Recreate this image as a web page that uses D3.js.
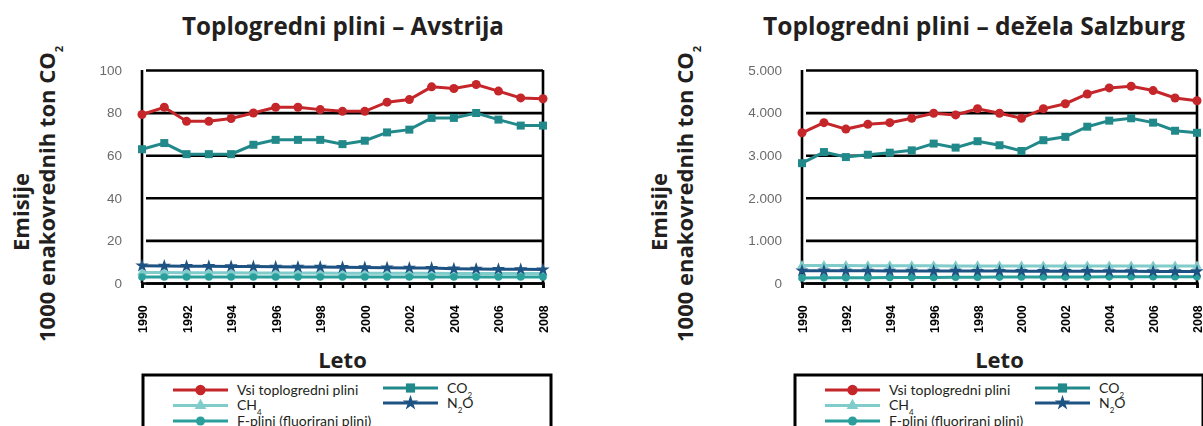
<!DOCTYPE html>
<html>
<head>
<meta charset="utf-8">
<script src="https://cdn.jsdelivr.net/npm/d3@7/dist/d3.min.js"></script>
<style>
  html, body { margin: 0; padding: 0; background: #ffffff; }
  svg { display: block; }
</style>
</head>
<body>
<script>
// Years on the x axis (every year is a point, every second year is labelled)
const years = [1990, 1991, 1992, 1993, 1994, 1995, 1996, 1997, 1998, 1999,
               2000, 2001, 2002, 2003, 2004, 2005, 2006, 2007, 2008];
const yearLabels = [1990, 1992, 1994, 1996, 1998, 2000, 2002, 2004, 2006, 2008];

// Austria, million t CO2 equivalent
const austriaTotal = [79.1, 82.5, 75.9, 75.9, 77.2, 79.8, 82.5, 82.5, 81.4, 80.6,
                      80.6, 84.9, 86.1, 92.1, 91.3, 93.2, 90.1, 86.9, 86.5];
const austriaCO2   = [62.8, 65.7, 60.5, 60.5, 60.5, 64.9, 67.2, 67.2, 67.2, 65.2,
                      66.8, 70.7, 72.0, 77.5, 77.5, 79.8, 76.7, 73.9, 73.9];
const austriaCH4   = [4.9, 4.9, 4.8, 4.8, 4.8, 4.7, 4.7, 4.7, 4.7, 4.6,
                      4.6, 4.6, 4.6, 4.6, 4.5, 4.5, 4.5, 4.5, 4.5];
const austriaF     = [2.8, 2.8, 2.8, 2.8, 2.8, 2.8, 2.8, 2.8, 2.8, 2.8,
                      2.8, 2.8, 2.8, 2.8, 2.8, 2.8, 2.8, 2.8, 2.8];
const austriaN2O   = [8.1, 8.0, 7.9, 7.9, 7.8, 7.7, 7.6, 7.5, 7.5, 7.4,
                      7.3, 7.2, 7.1, 7.0, 6.7, 6.6, 6.5, 6.4, 6.3];
const austriaTicks = [0, 20, 40, 60, 80, 100];

// Land Salzburg, 1000 t CO2 equivalent
const salzburgTotal = [3526, 3764, 3613, 3724, 3764, 3867, 3986, 3946, 4089, 3986,
                       3867, 4089, 4208, 4437, 4580, 4620, 4517, 4342, 4279];
const salzburgCO2   = [2813, 3074, 2956, 3011, 3059, 3114, 3273, 3178, 3328, 3233,
                       3098, 3352, 3431, 3669, 3811, 3867, 3764, 3574, 3526];
const salzburgCH4   = [410, 410, 408, 406, 405, 404, 403, 402, 401, 400,
                       400, 400, 400, 400, 400, 400, 400, 400, 400];
const salzburgN2O   = [290, 288, 286, 285, 284, 283, 282, 281, 280, 279,
                       278, 277, 276, 275, 274, 273, 272, 271, 270];
const salzburgF     = [120, 122, 124, 126, 128, 130, 132, 134, 136, 138,
                       140, 141, 142, 143, 144, 145, 146, 147, 148];
const salzburgTicks = [0, 1000, 2000, 3000, 4000, 5000];

// Text
const titles = ["Toplogredni plini \u2013 Avstrija", "Toplogredni plini \u2013 de\u017eela Salzburg"];
const seriesNames = ["Vsi toplogredni plini", "CH4", "F-plini (fluorirani plini)", "CO2", "N2O"];
const xTitle = "Leto";
const yTitle1 = "Emisije";
const yTitle2 = "1000 enakovrednih ton CO";

// Series styling, keyed by series name
const seriesStyle = {
  "Vsi toplogredni plini":        { color: "#c4262b", symbol: d3.symbolCircle,   size: 64 },
  "CH4":                          { color: "#80cccb", symbol: d3.symbolTriangle, size: 40 },
  "F-plini (fluorirani plini)":   { color: "#2a9f9c", symbol: d3.symbolCircle,   size: 45 },
  "CO2":                          { color: "#23898b", symbol: d3.symbolSquare,   size: 64 },
  "N2O":                          { color: "#1f5283", symbol: d3.symbolStar,     size: 55 }
};

const panels = [
  { title: titles[0], ticks: austriaTicks, fmt: d3.format("d"),
    series: [austriaTotal, austriaCH4, austriaF, austriaCO2, austriaN2O],
    left: 142, right: 543, top: 70, bottom: 283, titleX: 343, titleW: 322,
    yT1: 21, yT2: 47, legendX: 143 },
  { title: titles[1], ticks: salzburgTicks,
    fmt: d3.formatLocale({ decimal: ",", thousands: ".", grouping: [3], currency: ["", "€"] }).format(",d"),
    series: [salzburgTotal, salzburgCH4, salzburgF, salzburgCO2, salzburgN2O],
    left: 802, right: 1197, top: 70, bottom: 283, titleX: 974, titleW: 422,
    yT1: 659, yT2: 685, legendX: 795 }
];

const svg = d3.select("body").append("svg").attr("width", 1203).attr("height", 426);
const defs = svg.append("defs");
defs.append("filter").attr("id", "soft")
  .append("feGaussianBlur").attr("stdDeviation", 0.6);

const headFont = "'Open Sans', Lato, sans-serif";

// shrink or grow a text so that it spans the given width
function fitWidth(sel, w, base) {
  const len = sel.node().getComputedTextLength();
  sel.style("font-size", (base * w / len).toFixed(2) + "px");
}

// draw order: low series first, then CO2, then total on top
const drawOrder = [1, 2, 4, 3, 0];

panels.forEach(p => {
  const x = d3.scaleLinear().domain([years[0], years[years.length - 1]]).range([p.left, p.right]);
  const y = d3.scaleLinear().domain([p.ticks[0], p.ticks[p.ticks.length - 1]]).range([p.bottom, p.top]);
  const g = svg.append("g");

  // title
  const tt = g.append("text").attr("x", p.titleX).attr("y", 35)
    .attr("text-anchor", "middle")
    .style("font-family", headFont).style("font-weight", 700)
    .style("font-size", "20px").style("fill", "#231f20")
    .text(p.title);
  fitWidth(tt, p.titleW, 20);

  // y axis title, two rotated lines
  g.append("text").attr("transform", `translate(${p.yT1},212) rotate(-90)`)
    .attr("text-anchor", "middle").attr("dy", "0.35em")
    .style("font-family", headFont).style("font-weight", 700)
    .style("font-size", "22px").style("fill", "#231f20").text(yTitle1);
  const t2 = g.append("text").attr("transform", `translate(${p.yT2},194) rotate(-90)`)
    .attr("text-anchor", "middle").attr("dy", "0.35em")
    .style("font-family", headFont).style("font-weight", 700)
    .style("font-size", "22px").style("fill", "#231f20");
  t2.append("tspan").text(yTitle2);
  t2.append("tspan").attr("baseline-shift", "sub").style("font-size", "11px").text("2");

  const plot = g.append("g").attr("filter", "url(#soft)");

  // y axis with gridlines
  const yAxis = d3.axisLeft(y).tickValues(p.ticks).tickFormat(p.fmt)
    .tickSize(-(p.right - p.left)).tickPadding(20);
  const ya = plot.append("g").attr("transform", `translate(${p.left},0)`).call(yAxis);
  ya.select(".domain").remove();
  ya.selectAll(".tick line").attr("x1", 4).attr("stroke", "#000").attr("stroke-width", 2.6);
  ya.selectAll(".tick text").style("font-family", "'Liberation Sans', Arial, sans-serif")
    .style("font-size", "13.5px").style("fill", "#6a6a6a");

  // frame: left axis and right border
  plot.append("line").attr("x1", p.left).attr("x2", p.left).attr("y1", p.top).attr("y2", p.bottom)
    .attr("stroke", "#000").attr("stroke-width", 2.6);
  plot.append("line").attr("x1", p.right).attr("x2", p.right).attr("y1", p.top).attr("y2", p.bottom)
    .attr("stroke", "#000").attr("stroke-width", 2.6);

  // x axis: tick at every year, label every second year
  const xAxis = d3.axisBottom(x).tickValues(years).tickSize(5)
    .tickFormat(d => yearLabels.includes(d) ? String(d) : "");
  const xa = plot.append("g").attr("transform", `translate(0,${p.bottom})`).call(xAxis);
  xa.select(".domain").attr("stroke", "#000").attr("stroke-width", 2.6);
  xa.selectAll(".tick line").attr("stroke", "#000").attr("stroke-width", 2.4);
  xa.selectAll(".tick text")
    .attr("transform", "rotate(-90)")
    .attr("x", -50).attr("y", 0).attr("dy", "0.36em")
    .attr("text-anchor", "start")
    .style("font-family", "'Liberation Sans', Arial, sans-serif").style("font-weight", 700)
    .style("font-size", "12.5px").style("fill", "#000");

  // series
  const line = d3.line().x((d, i) => x(years[i])).y(d => y(d));
  drawOrder.forEach(si => {
    const name = seriesNames[si];
    const st = seriesStyle[name];
    const vals = p.series[si];
    plot.append("path").datum(vals).attr("d", line)
      .attr("fill", "none").attr("stroke", st.color).attr("stroke-width", 3);
    plot.append("g").selectAll("path").data(vals).join("path")
      .attr("transform", (d, i) => `translate(${x(years[i])},${y(d)})`)
      .attr("d", d3.symbol().type(st.symbol).size(st.size))
      .attr("fill", st.color);
  });

  // x axis title
  g.append("text").attr("x", (p.left + p.right) / 2).attr("y", 368)
    .attr("text-anchor", "middle")
    .style("font-family", headFont).style("font-weight", 700)
    .style("font-size", "22px").style("fill", "#231f20").text(xTitle);

  // legend
  const lg = g.append("g").attr("transform", `translate(${p.legendX},0)`);
  lg.append("rect").attr("x", 0).attr("y", 375).attr("width", 408).attr("height", 80)
    .attr("fill", "none").attr("stroke", "#000").attr("stroke-width", 3);
  const legendPos = [
    { dx: 30, dy: 390 }, { dx: 30, dy: 405.5 }, { dx: 30, dy: 421 },
    { dx: 240, dy: 388 }, { dx: 240, dy: 403 }
  ];
  seriesNames.forEach((name, i) => {
    const st = seriesStyle[name];
    const pos = legendPos[i];
    const item = lg.append("g").attr("transform", `translate(${pos.dx},${pos.dy})`);
    const sample = item.append("g").attr("filter", "url(#soft)");
    sample.append("line").attr("x1", 0).attr("x2", 55).attr("stroke", st.color).attr("stroke-width", 3);
    sample.append("path").attr("transform", "translate(27.5,0)")
      .attr("d", d3.symbol().type(st.symbol).size(st.size + 20)).attr("fill", st.color);
    const tx = item.append("text").attr("x", 64).attr("dy", "0.35em")
      .style("font-family", "Lato, sans-serif").style("font-size", "14px").style("fill", "#231f20");
    const m = name.match(/^([A-Z]+)(\d)(.*)$/);
    if (m) {
      tx.append("tspan").text(m[1]);
      tx.append("tspan").attr("baseline-shift", "sub").style("font-size", "8px").text(m[2]);
      if (m[3]) tx.append("tspan").text(m[3]);
    } else {
      tx.text(name);
    }
  });
});
</script>
</body>
</html>
